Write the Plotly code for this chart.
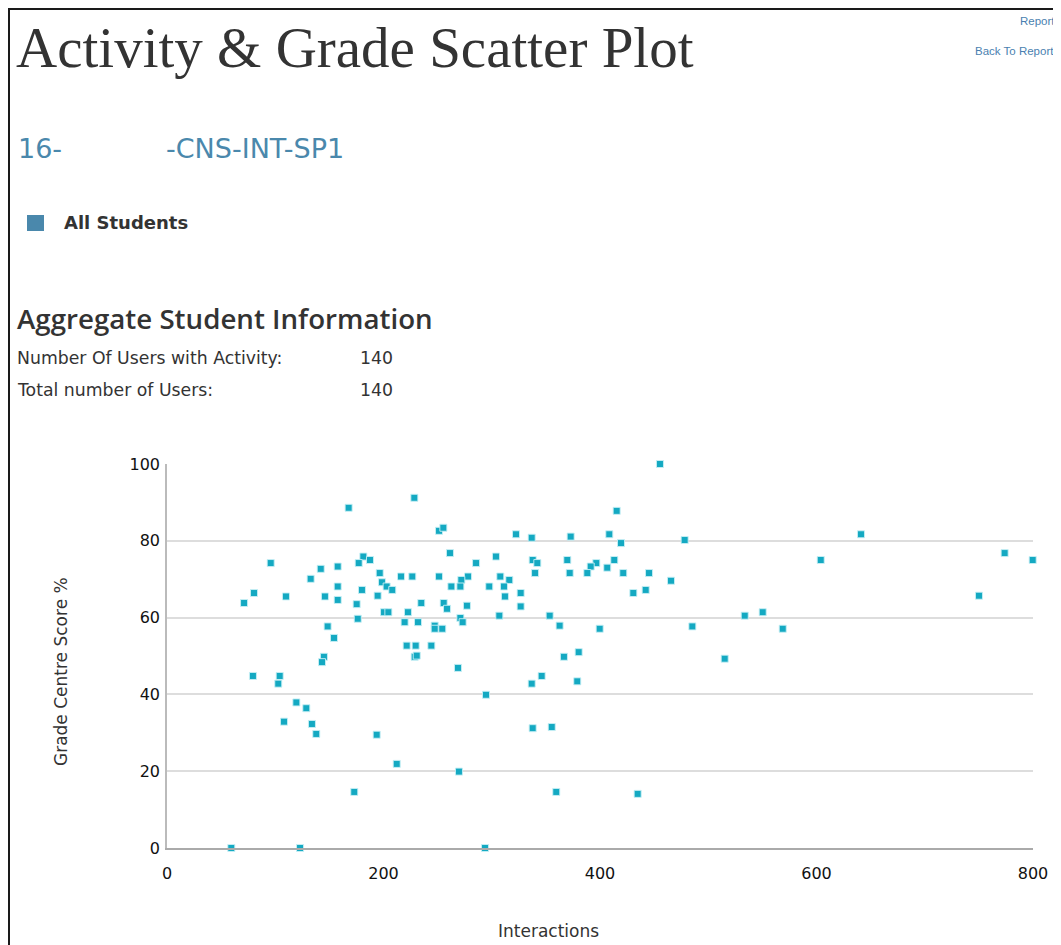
import plotly.graph_objects as go

# ---- data ----
interactions = [
    167.8, 181.4, 187.5, 177.1, 95.8, 157.7, 142.0, 132.7, 196.5, 198.6, 202.9, 157.7, 180.1,
    80.4, 109.9, 145.9, 194.6, 71.2, 157.7, 175.2, 200.5, 204.5, 176.2, 148.4, 154.3, 145.0,
    143.2, 79.4, 104.1, 102.8, 119.5, 128.7, 108.1, 133.9, 137.9, 193.7, 173.0, 59.4, 122.9,
    228.5, 251.3, 255.3, 322.4, 336.9, 372.9, 408.6, 261.4, 303.9, 285.5, 337.8, 342.1, 369.8,
    396.6, 391.4, 406.7, 216.2, 226.6, 251.3, 278.1, 307.9, 271.9, 316.2, 340.0, 372.0, 388.3,
    208.1, 262.7, 271.0, 297.7, 311.3, 312.2, 326.7, 326.7, 234.9, 255.6, 258.7, 277.1, 222.6,
    271.0, 273.1, 307.0, 353.5, 219.5, 231.9, 247.3, 247.3, 254.3, 362.7, 399.7, 221.4, 229.7,
    244.2, 228.8, 230.7, 268.8, 366.7, 380.3, 346.1, 336.9, 379.0, 294.7, 337.8, 355.4, 212.2,
    269.7, 359.6, 293.8,
    455.4, 415.4, 419.4, 478.2, 641.1, 413.2, 421.5, 445.3, 465.6, 430.8, 442.2, 603.9, 773.8,
    799.7, 750.1, 485.3, 533.7, 550.3, 568.8, 515.2, 434.8,
]
grades = [
    88.6, 75.9, 75.0, 74.2, 74.2, 73.3, 72.7, 70.1, 71.6, 69.2, 68.1, 68.1, 67.2,
    66.4, 65.5, 65.5, 65.7, 63.8, 64.6, 63.5, 61.4, 61.4, 59.7, 57.7, 54.7, 49.8,
    48.4, 44.8, 44.8, 42.8, 37.9, 36.4, 32.9, 32.3, 29.7, 29.5, 14.6, 0.0, 0.0,
    91.2, 82.6, 83.4, 81.7, 80.8, 81.1, 81.7, 76.8, 75.9, 74.2, 75.0, 74.2, 75.0,
    74.2, 73.3, 73.0, 70.7, 70.7, 70.7, 70.7, 70.7, 69.8, 69.8, 71.6, 71.6, 71.6,
    67.2, 68.1, 68.1, 68.1, 68.1, 65.5, 66.4, 62.9, 63.8, 63.8, 62.3, 63.1, 61.4,
    59.9, 58.8, 60.5, 60.5, 58.8, 58.8, 57.9, 57.1, 57.1, 57.9, 57.1, 52.7, 52.7,
    52.7, 49.8, 50.1, 46.9, 49.8, 51.0, 44.8, 42.8, 43.4, 39.9, 31.2, 31.5, 21.9,
    19.9, 14.6, 0.0,
    100.0, 87.8, 79.4, 80.2, 81.7, 75.0, 71.6, 71.6, 69.6, 66.4, 67.2, 75.0, 76.8,
    75.0, 65.7, 57.7, 60.5, 61.4, 57.1, 49.3, 14.1,
]
x_ticks = [0, 200, 400, 600, 800]
y_ticks = [0, 20, 40, 60, 80, 100]
series_name = "All Students"
title_text = "Activity & Grade Scatter Plot"
course_prefix = "16-"
course_suffix = "-CNS-INT-SP1"
info_labels = ["Number Of Users with Activity:", "Total number of Users:"]
info_values = ["140", "140"]

# ---- layout geometry (page pixels; the page body adds an 8px offset) ----
OFF = 8
PAGE_W, PAGE_H = 1061, 945
FW, FH = PAGE_W - OFF, PAGE_H - OFF
L, R, T, B = 167, 1033, 464, 848
PW, PH = R - L, B - T


def px(x):
    return (x - L) / PW


def py(y):
    return (B - y) / PH


fig = go.Figure()
fig.add_trace(go.Scatter(
    x=interactions, y=grades, mode="markers", name=series_name,
    marker=dict(symbol="square", size=7, color="#14a9c2",
                line=dict(width=1, color="rgba(200,240,245,0.9)")),
    cliponaxis=False, showlegend=False,
))

shapes = [
    # page frame
    dict(type="rect", xref="paper", yref="paper", x0=px(9), x1=px(1075), y0=py(9), y1=py(960),
         fillcolor="white", line=dict(color="#1a1a1a", width=2), layer="below"),
    # legend swatch
    dict(type="rect", xref="paper", yref="paper", x0=px(27), x1=px(44), y0=py(215), y1=py(231),
         fillcolor="#4a88ac", line=dict(width=0)),
]

ann = []


def text(s, x, y, size, color="#333333", family="DejaVu Sans", xanchor="left", weight=None, angle=0):
    f = dict(size=size, color=color, family=family)
    if weight:
        f["weight"] = weight
    ann.append(dict(text=s, xref="paper", yref="paper", x=px(x), y=py(y), xanchor=xanchor,
                    yanchor="middle", showarrow=False, font=f, textangle=angle))


text(title_text, 14, 47, 57, family="Liberation Serif")
text("Report I", 1018, 21, 11.5, color="#4a7fb0", family="Liberation Sans")
text("Back To Report", 973, 51, 11.5, color="#4a7fb0", family="Liberation Sans")
text(course_prefix, 16, 148, 27, color="#4a88ac")
text(course_suffix, 164, 148, 27, color="#4a88ac")
text(series_name, 62, 223, 18, weight="bold")
text("Aggregate Student Information", 15, 318, 27.7, family="Open Sans", weight=600)
text(info_labels[0], 15, 358, 17.3)
text(info_values[0], 358, 358, 17.3)
text(info_labels[1], 15, 390, 17.3)
text(info_values[1], 358, 390, 17.3)
text("Interactions", 548, 931, 17, xanchor="center")
text("Grade Centre Score %", 61, 672, 17, xanchor="center", angle=-90)

fig.update_layout(
    width=FW, height=FH,
    margin=dict(l=L - OFF, r=PAGE_W - R, t=T - OFF, b=PAGE_H - B, pad=0),
    paper_bgcolor="#f1f1f1", plot_bgcolor="white",
    shapes=shapes, annotations=ann,
    font=dict(family="DejaVu Sans", color="#111111"),
)
fig.update_xaxes(
    range=[0, 800], tickvals=x_ticks, ticktext=[str(v) for v in x_ticks],
    showgrid=False, zeroline=False, showline=True, linecolor="#aaaaaa", linewidth=2,
    ticks="outside", ticklen=10, tickcolor="rgba(0,0,0,0)", tickfont=dict(size=16, color="#111"),
)
fig.update_yaxes(
    range=[0, 100], tickvals=y_ticks, ticktext=[str(v) for v in y_ticks],
    showgrid=True, gridcolor="#dddddd", gridwidth=1.5, zeroline=False,
    showline=True, linecolor="#bbbbbb", linewidth=1.5,
    ticks="outside", ticklen=2, tickcolor="rgba(0,0,0,0)", tickfont=dict(size=16, color="#111"),
)

fig.write_html("out.html")
